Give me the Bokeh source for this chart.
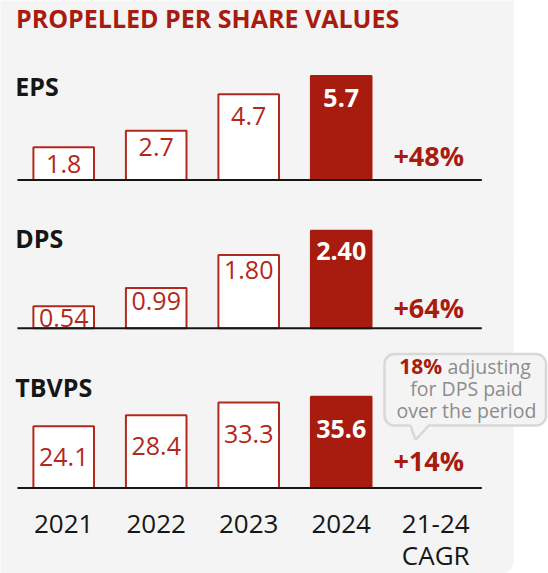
from bokeh.plotting import figure
from bokeh.models import Range1d
from bokeh.core.properties import value
from bokeh.embed import file_html
from bokeh.resources import INLINE

# ---------------- data ----------------
title = "PROPELLED PER SHARE VALUES"
years = ["2021", "2022", "2023", "2024"]
cagr_head = ["21-24", "CAGR"]
metrics = ["EPS", "DPS", "TBVPS"]
eps = [1.8, 2.7, 4.7, 5.7]
eps_labels = ["1.8", "2.7", "4.7", "5.7"]
dps = [0.54, 0.99, 1.80, 2.40]
dps_labels = ["0.54", "0.99", "1.80", "2.40"]
tbvps = [24.1, 28.4, 33.3, 35.6]
tbvps_labels = ["24.1", "28.4", "33.3", "35.6"]
cagr = ["+48%", "+64%", "+14%"]
note_bold = "18%"
note_lines = ["adjusting", "for DPS paid", "over the period"]

# ---------------- layout / style ----------------
W, H = 548, 573
slot0 = 63.2
step = 92.5
FONT = value("Open Sans")
RED = "#a81c10"
RED_LINE = "#b3281c"
INK = "#161616"
GRAY_TXT = "#8c8c8c"
CAP = 0.357  # correction so that given y is the text baseline


def fix(fs):
    return -CAP * fs


panels = [
    dict(name="eps", vals=eps, labels=eps_labels, base=179.5, scale=18.25,
         label_y=94.3, offs=[26, 25, 31, 31], cagr_dy=14.5),
    dict(name="dps", vals=dps, labels=dps_labels, base=327.7, scale=40.6,
         label_y=246.7, offs=[21, 22, 24, 29], cagr_dy=11),
    dict(name="tbv", vals=tbvps, labels=tbvps_labels, base=487.5, scale=2.565,
         label_y=395, offs=[40, 40, 40, 41], cagr_dy=18.2),
]

p = figure(width=W, height=H, output_backend="svg", toolbar_location=None,
           x_range=Range1d(0, W), y_range=Range1d(H, 0),
           x_axis_location=None, y_axis_location=None, min_border=0)
p.outline_line_color = None
p.grid.visible = False
p.background_fill_color = "white"
p.border_fill_color = "white"

p.extra_x_ranges = {"slot": Range1d(-slot0 / step, (W - slot0) / step)}
for pn in panels:
    p.extra_y_ranges[pn["name"]] = Range1d(-(H - pn["base"]) / pn["scale"], pn["base"] / pn["scale"])

# background panel
p.quad(left=[-20], right=[513], top=[-20], bottom=[573], border_radius=12,
       fill_color="#f4f4f4", line_color=None)

# title
p.text(x=[15.5], y=[26.7 + fix(25)], text=[title], text_font=FONT, text_font_style="bold",
       text_font_size="25px", text_color=RED, text_align="left", text_baseline="alphabetic")

xs = list(range(len(years)))
for k, pn in enumerate(panels):
    yr = pn["name"]
    p.text(x=[14.7], y=[pn["label_y"] + fix(25)], text=[metrics[k]], text_font=FONT,
           text_font_style="bold", text_font_size="25px", text_color=INK,
           text_align="left", text_baseline="alphabetic")
    p.vbar(x=xs, top=pn["vals"], bottom=0, width=0.655,
           fill_color=["white", "white", "white", RED],
           line_color=[RED_LINE, RED_LINE, RED_LINE, RED], line_width=2,
           x_range_name="slot", y_range_name=yr)
    p.text(x=xs[:3], y=pn["vals"][:3], text=pn["labels"][:3],
           y_offset=[o + fix(25) for o in pn["offs"][:3]],
           text_font=FONT, text_font_size="25px", text_color=RED_LINE,
           text_align="center", text_baseline="alphabetic",
           x_range_name="slot", y_range_name=yr)
    p.text(x=xs[3:], y=pn["vals"][3:], text=pn["labels"][3:],
           y_offset=[o + fix(25) for o in pn["offs"][3:]],
           text_font=FONT, text_font_style="bold", text_font_size="25px", text_color="white",
           text_align="center", text_baseline="alphabetic",
           x_range_name="slot", y_range_name=yr)
    p.text(x=[len(years)], y=[0], text=[cagr[k]], x_offset=-5,
           y_offset=-pn["cagr_dy"] + fix(27),
           text_font=FONT, text_font_style="bold", text_font_size="27px", text_color=RED,
           text_align="center", text_baseline="alphabetic",
           x_range_name="slot", y_range_name=yr)
    p.segment(x0=[-0.5], x1=[4.52], y0=[0], y1=[0], line_color=INK, line_width=2,
              x_range_name="slot", y_range_name=yr)

# category labels
p.text(x=xs, y=[532.7 + fix(26)] * len(years), text=years, text_font=FONT, text_font_size="26px",
       text_color=INK, text_align="center", text_baseline="alphabetic", x_range_name="slot")
p.text(x=[len(years), len(years)], y=[532.7 + fix(26), 564 + fix(26)], text=cagr_head, x_offset=2,
       text_font=FONT, text_font_size="26px", text_color=INK, text_align="center",
       text_baseline="alphabetic", x_range_name="slot")

# callout
p.quad(left=[384], right=[545.5], top=[353.5], bottom=[425], border_radius=10,
       fill_color="#f4f4f4", line_color="#d8d8d8", line_width=2.5)
p.patch(x=[410, 428.3, 415], y=[423.6, 423.6, 439.3], fill_color="#f4f4f4", line_color=None)
p.multi_line(xs=[[410, 415], [415, 428.3]], ys=[[425, 439.3], [439.3, 425]],
             line_color="#d8d8d8", line_width=2.5)
p.text(x=[441.7], y=[373 + fix(21)], text=[note_bold], text_font=FONT, text_font_style="bold",
       text_font_size="21px", text_color=RED, text_align="right", text_baseline="alphabetic")
p.text(x=[447], y=[373 + fix(19.5)], text=[note_lines[0]], text_font=FONT, text_font_size="19.5px",
       text_color=GRAY_TXT, text_align="left", text_baseline="alphabetic")
p.text(x=[466, 466], y=[395 + fix(19.5), 416.5 + fix(19.5)], text=note_lines[1:], text_font=FONT,
       text_font_size="19.5px", text_color=GRAY_TXT, text_align="center", text_baseline="alphabetic")

open("out.html", "w").write(file_html(p, INLINE))
